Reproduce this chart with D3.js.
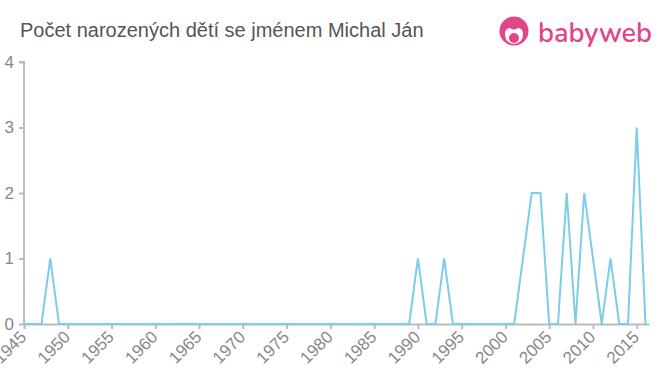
<!DOCTYPE html>
<html>
<head>
<meta charset="utf-8">
<script src="https://cdn.jsdelivr.net/npm/d3@7"></script>
<style>
body { margin:0; background:#fff; }
svg { display:block; font-family:"Liberation Sans", Arial, sans-serif; }
</style>
</head>
<body>
<svg id="chart"></svg>
<script>
// years shown on the chart, one value per year
var years = d3.range(1945, 2017)

// births per year (only non-zero years listed, rest are 0)
var peakYears = [1948, 1990, 1993, 2002, 2003, 2004, 2007, 2009, 2010, 2012, 2015]
var peakCounts = [1, 1, 1, 1, 2, 2, 2, 2, 1, 1, 3]

var xTicks = d3.range(1945, 2016, 5)
var yTicks = [0, 1, 2, 3, 4]

var counts = years.map(function(y)
{
    var i = peakYears.indexOf(y)
    return i < 0 ? 0 : peakCounts[i]
})

var initGraph = function(target)
{
    var screen = {width:660, height:375}
    var margins = {top:62, bottom:51, left:24, right:11}
    var graph =
    {
        width:screen.width-margins.left-margins.right,
        height:screen.height-margins.top-margins.bottom
    }

    var svg = d3.select(target)
        .attr("width",screen.width)
        .attr("height",screen.height)

    //title
    svg.append("text")
        .attr("x",20)
        .attr("y",37)
        .attr("font-size","20px")
        .attr("fill","#555")
        .text("Počet narozených dětí se jménem Michal Ján")

    drawLogo(svg)

    var xScale = d3.scaleLinear()
        .domain([1945,2016.4])
        .range([0,graph.width])

    var yScale = d3.scaleLinear()
        .domain([0,4])
        .range([graph.height,0])

    var g = svg.append("g")
        .attr("transform","translate("+margins.left+","+margins.top+")")

    var yAxis = d3.axisLeft(yScale)
        .tickValues(yTicks)
        .tickFormat(d3.format("d"))
        .tickSize(5)
        .tickPadding(5)
    var yg = g.append("g").call(yAxis)

    var xAxis = d3.axisBottom(xScale)
        .tickValues(xTicks)
        .tickFormat(d3.format("d"))
        .tickSize(5)
        .tickSizeOuter(0)
    var xg = g.append("g")
        .attr("transform","translate(0,"+graph.height+")")
        .call(xAxis)

    //rotated year labels
    xg.selectAll("text")
        .attr("text-anchor","end")
        .attr("dx","0")
        .attr("dy","0")
        .attr("y","0")
        .attr("transform","translate(3,14) rotate(-45)")

    ;[xg,yg].forEach(function(a)
    {
        a.select(".domain").attr("stroke","#bbb").attr("stroke-width",2)
        a.selectAll(".tick line").attr("stroke","#bbb").attr("stroke-width",2)
        a.selectAll("text").attr("fill","#888").attr("font-size","17px")
            .attr("font-family","Liberation Sans, Arial, sans-serif")
    })
    yg.select(".domain").attr("d","M0,"+graph.height+"V0H-5")

    var line = d3.line()
        .x(function(d,i){ return xScale(years[i]) })
        .y(function(d){ return yScale(d) })

    g.append("path")
        .datum(counts)
        .attr("d",line)
        .attr("fill","none")
        .attr("stroke","#7ccdea")
        .attr("stroke-width",2)
}

//babyweb logo in the top right corner
var drawLogo = function(svg)
{
    var pink = "#e0458a"
    var logo = svg.append("g").attr("transform","translate(514,31)")
    logo.append("circle").attr("r",14.5).attr("fill",pink)
    logo.append("path")
        .attr("d","M-9,3 Q-9,-3 -4,-3 Q0,0 4,-3 Q9,-3 9,3 Q9,12 0,13 Q-9,12 -9,3 Z")
        .attr("fill","#fff")
    logo.append("circle").attr("cx",0).attr("cy",7).attr("r",5).attr("fill",pink)
    svg.append("text")
        .attr("x",538)
        .attr("y",42)
        .attr("font-size","27px")
        .attr("font-weight","600")
        .attr("font-family","Nunito, 'Open Sans', sans-serif")
        .attr("fill",pink)
        .text("babyweb")
}

initGraph("#chart")
</script>
</body>
</html>
